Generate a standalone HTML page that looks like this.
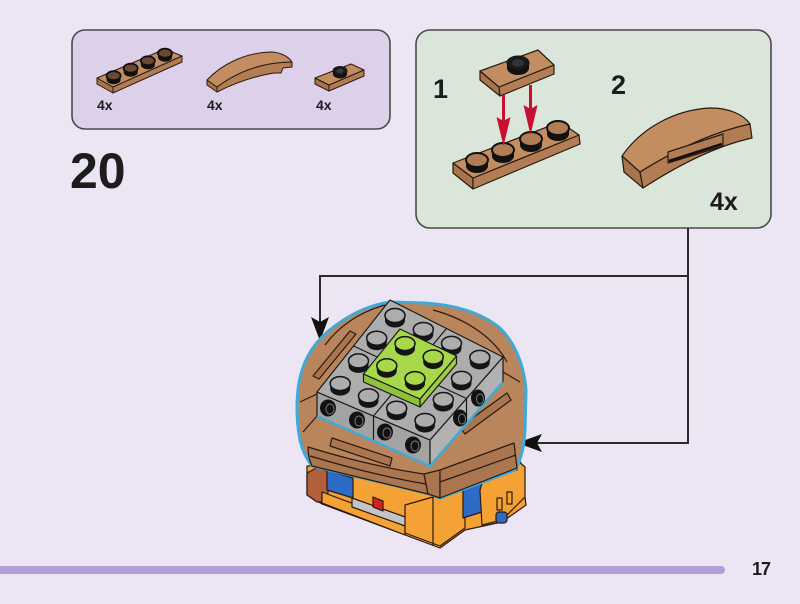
<!DOCTYPE html>
<html><head><meta charset="utf-8"><style>
html,body{margin:0;padding:0;background:#ece5f3;}
svg{display:block;}
text{font-family:"Liberation Sans",sans-serif;font-weight:bold;fill:#1c1c1c;}
</style></head><body>
<svg width="800" height="604" viewBox="0 0 800 604" xmlns="http://www.w3.org/2000/svg">
<rect width="800" height="604" fill="#ece5f3"/>

<!-- Parts box -->
<rect x="72" y="30" width="318" height="99" rx="13" fill="#dcd0ea" stroke="#4a4a4a" stroke-width="1.6"/>
<!-- 1x4 plate -->
<g stroke="#2a1a10" stroke-width="1" stroke-linejoin="round">
<polygon points="97,78 113,87 113,93 97,84" fill="#a8744d"/>
<polygon points="113,87 182,56 182,62 113,93" fill="#b27d54"/>
<polygon points="97,78 165,49 182,56 113,87" fill="#c28d61"/>
</g>
<g fill="#111">
<path d="M106.6,75.7 v4 a7 4.5 0 0 0 14 0 v-4 z"/><ellipse cx="113.6" cy="75.7" rx="7" ry="4.5" fill="#6a4a32" stroke="#111" stroke-width="1.8"/>
<path d="M123.7,68.2 v4 a7 4.5 0 0 0 14 0 v-4 z"/><ellipse cx="130.7" cy="68.2" rx="7" ry="4.5" fill="#6a4a32" stroke="#111" stroke-width="1.8"/>
<path d="M140.9,60.8 v4 a7 4.5 0 0 0 14 0 v-4 z"/><ellipse cx="147.9" cy="60.8" rx="7" ry="4.5" fill="#6a4a32" stroke="#111" stroke-width="1.8"/>
<path d="M158,53.2 v4 a7 4.5 0 0 0 14 0 v-4 z"/><ellipse cx="165" cy="53.2" rx="7" ry="4.5" fill="#6a4a32" stroke="#111" stroke-width="1.8"/>
</g>
<!-- curved slope -->
<g stroke="#2a1a10" stroke-width="1" stroke-linejoin="round">
<path d="M207,80 L217,87 L217,92 L207,85 Z" fill="#a8744d"/>
<path d="M217,87 C240,70 265,62 292,62 L292,67 L283,68 L281,73 L274,73 C255,76 235,83 217,92 Z" fill="#b27d54"/>
<path d="M207,80 C222,64 245,53 270,52 C280,52 288,56 292,62 C265,62 240,70 217,87 Z" fill="#c28d61"/>
</g>
<!-- jumper plate -->
<g stroke="#2a1a10" stroke-width="1" stroke-linejoin="round">
<polygon points="315,78 329,85 329,91 315,84" fill="#a8744d"/>
<polygon points="329,85 364,70 364,76 329,91" fill="#b27d54"/>
<polygon points="315,78 351,64 364,70 329,85" fill="#c28d61"/>
</g>
<path d="M333,71 v3 a7 4.5 0 0 0 14 0 v-3 z" fill="#111"/>
<ellipse cx="340" cy="71" rx="7" ry="4.5" fill="#1a1a1a" stroke="#111"/>
<ellipse cx="340" cy="71" rx="3.5" ry="2.2" fill="#3a3a3a"/>
<text x="97" y="110" font-size="14">4x</text>
<text x="207" y="110" font-size="14">4x</text>
<text x="316" y="110" font-size="14">4x</text>

<!-- Step number -->
<text x="70" y="188" font-size="50">20</text>

<!-- Sub-assembly box -->
<rect x="416" y="30" width="355" height="198" rx="14" fill="#d9e6d9" stroke="#4a4a4a" stroke-width="1.6"/>
<text x="433" y="98" font-size="27">1</text>
<text x="611" y="94" font-size="27">2</text>
<text x="710" y="210" font-size="25">4x</text>

<!-- step1 top plate -->
<g stroke="#2a1a10" stroke-width="1.2" stroke-linejoin="round">
<polygon points="480,71 499,87 500,96 480,80" fill="#a8744d"/>
<polygon points="499,87 554,65 554,74 500,96" fill="#b27d54"/>
<polygon points="480,71 538,50 554,65 499,87" fill="#c28d61"/>
</g>
<path d="M507,63 v5 a11 7 0 0 0 22 0 v-5 z" fill="#111"/>
<ellipse cx="518" cy="63" rx="11" ry="7" fill="#1a1a1a" stroke="#111"/>
<ellipse cx="518" cy="63" rx="6" ry="3.8" fill="#333"/>
<!-- step1 bottom plate -->
<g stroke="#2a1a10" stroke-width="1.2" stroke-linejoin="round">
<polygon points="453,163 473,178 473,189 453,173" fill="#a8744d"/>
<polygon points="473,178 579,135 580,144 473,189" fill="#b27d54"/>
<polygon points="453,163 560,122 579,135 473,178" fill="#c28d61"/>
</g>
<g fill="#111">
<path d="M466,160 v6 a11 7 0 0 0 22 0 v-6 z"/><ellipse cx="477" cy="160" rx="11" ry="7" fill="#b27d54" stroke="#111" stroke-width="2"/>
<path d="M492,150 v6 a11 7 0 0 0 22 0 v-6 z"/><ellipse cx="503" cy="150" rx="11" ry="7" fill="#b27d54" stroke="#111" stroke-width="2"/>
<path d="M520,139 v6 a11 7 0 0 0 22 0 v-6 z"/><ellipse cx="531" cy="139" rx="11" ry="7" fill="#b27d54" stroke="#111" stroke-width="2"/>
<path d="M547,128 v6 a11 7 0 0 0 22 0 v-6 z"/><ellipse cx="558" cy="128" rx="11" ry="7" fill="#b27d54" stroke="#111" stroke-width="2"/>
</g>
<!-- red arrows -->
<g fill="#c8102e">
<rect x="502" y="95" width="3" height="26"/>
<polygon points="496.5,117 503.5,121 510.5,117 503.5,146"/>
<rect x="529" y="85" width="3" height="24"/>
<polygon points="523.5,105 530.5,109 537.5,105 530.5,135"/>
</g>

<!-- step2 curved slope -->
<g stroke="#2a1a10" stroke-width="1.2" stroke-linejoin="round">
<path d="M622,156 L640,172 L643,188 L624,172 Z" fill="#a8744d"/>
<path d="M640,172 C675,150 712,132 750,124 L752,138 C716,146 680,164 643,188 Z" fill="#b27d54"/>
<path d="M622,156 C640,130 672,110 710,108 C730,108 744,115 750,124 C712,132 675,150 640,172 Z" fill="#c28d61"/>
<path d="M668,152 L723,134 L723,146 L668,163 Z" fill="#b27d54"/>
<path d="M669,161 L722,144" stroke="#111" stroke-width="2.5"/>
</g>

<!-- connectors -->
<g stroke="#2b2b2b" stroke-width="2" fill="none">
<polyline points="688,228 688,443 530,443"/>
<polyline points="688,276 320,276 320,325"/>
</g>
<polygon points="311,317 320,322 329,317 320,341" fill="#111"/>
<polygon points="542,434 537,443 542,452 517,443" fill="#111"/>

<!-- MODEL -->
<!-- base -->
<g stroke="#2a1a10" stroke-width="1.2" stroke-linejoin="round">
<polygon points="307,466 520,458 526,505 502,522 465,530 440,548 322,504 307,495" fill="#f4a136"/>
<polygon points="307,473 318,467 328,472 328,502 317,502 307,495" fill="#b0603a"/>
<polygon points="327,470 353,478 353,498 327,490" fill="#2e6bc6"/>
<polygon points="322,492 405,523 405,535 322,503" fill="#f4a136"/>
<polygon points="352,498 408,518 408,527 352,507" fill="#c4c4c4"/>
<polygon points="373,497 383,501 383,511 373,507" fill="#d42020"/>
<polygon points="405,505 433,497 465,490 465,528 440,546 405,533" fill="#f4a136"/>
<line x1="433" y1="497" x2="433" y2="546"/>
<polygon points="463,475 482,468 482,512 463,518" fill="#2e6bc6"/>
<polygon points="480,490 487,467 517,460 525,467 525,497 502,520 482,525" fill="#f4a136"/>
<polygon points="487,470 517,462 517,470 487,478" fill="#e08e2a"/>
<rect x="497" y="498" width="5" height="12" fill="none"/>
<rect x="507" y="492" width="5" height="12" fill="none"/>
<rect x="496" y="512" width="11" height="11" rx="3" fill="#2e6bc6"/>
</g>

<!-- ring -->
<path d="M300,440 C296,420 296,395 300,378 C305,355 318,338 335,326 C352,313 370,305 390,302 L425,303 C455,305 480,312 500,328 C515,343 524,365 526,390 L525,430 C524,448 520,462 515,470 L440,498 L430,494 L312,466 C306,458 302,450 300,440 Z" fill="#b9855c" stroke="#3fa9d8" stroke-width="3"/>
<g stroke="#2a1a10" stroke-width="1.2" fill="none" stroke-linejoin="round">
<path d="M308,447 C350,460 390,469 424,474 L428,494 L312,466 C309,460 308,455 308,447 Z" fill="#a97650"/>
<path d="M424,474 L440,470 L440,498 L428,494 Z" fill="#a97650"/>
<path d="M440,470 L514,443 L517,468 L440,498 Z" fill="#a97650"/>
<path d="M440,482 L516,455"/>
<path d="M310,456 C350,468 390,478 426,484"/>
<polygon points="332,438 392,458 390,466 330,446" fill="#a97650"/>
<polygon points="460,427 507,393 511,400 465,434" fill="#a97650"/>
<polygon points="313,376 350,331 356,334 319,379" fill="#a97650"/>
<path d="M433,310 C470,320 495,340 507,362"/>
<path d="M300,402 L317,394"/>
<path d="M303,432 L317,416"/>
<path d="M520,382 L503,372"/>
<path d="M325,345 C340,325 360,312 385,305"/>
</g>

<!-- gray block -->
<g stroke="#1a1a1a" stroke-width="1.2" stroke-linejoin="round">
<polygon points="317,392 430,440 430,466 317,416" fill="#a3a3a3"/>
<polygon points="430,440 503,357 503,382 430,466" fill="#b2b2b2"/>
<polygon points="390,300 503,357 430,440 317,392" fill="#adadad"/>
<line x1="446.5" y1="328.5" x2="373.5" y2="416"/>
<line x1="353.5" y1="346" x2="466.5" y2="398.5"/>
<line x1="373.5" y1="416" x2="373.5" y2="441"/>
<line x1="466.5" y1="398.5" x2="466.5" y2="423"/>
</g>
<polyline points="317,416 430,466 503,382" fill="none" stroke="#3fa9d8" stroke-width="2.5"/>
<!-- side studs -->
<g fill="#111">
<ellipse cx="328" cy="408" rx="8" ry="8.5"/><ellipse cx="357" cy="420" rx="8" ry="8.5"/>
<ellipse cx="385" cy="432" rx="8" ry="8.5"/><ellipse cx="413" cy="445" rx="8" ry="8.5"/>
<ellipse cx="478" cy="398" rx="7" ry="8.5"/><ellipse cx="460" cy="418" rx="7" ry="8.5"/>
</g>
<g fill="none" stroke="#777" stroke-width="1">
<ellipse cx="330" cy="409" rx="4" ry="5"/><ellipse cx="359" cy="421" rx="4" ry="5"/>
<ellipse cx="387" cy="433" rx="4" ry="5"/><ellipse cx="415" cy="446" rx="4" ry="5"/>
<ellipse cx="480" cy="399" rx="3.5" ry="5"/><ellipse cx="462" cy="419" rx="3.5" ry="5"/>
</g>
<!-- gray studs -->
<g fill="#151515">
<path d="M385,315.5 v5 a10 7 0 0 0 20 0 v-5 z"/><ellipse cx="395" cy="315.5" rx="10" ry="7" fill="#adadad" stroke="#151515" stroke-width="1.5"/>
<path d="M413.3,329.5 v5 a10 7 0 0 0 20 0 v-5 z"/><ellipse cx="423.3" cy="329.5" rx="10" ry="7" fill="#adadad" stroke="#151515" stroke-width="1.5"/>
<path d="M441.5,343.4 v5 a10 7 0 0 0 20 0 v-5 z"/><ellipse cx="451.5" cy="343.4" rx="10" ry="7" fill="#adadad" stroke="#151515" stroke-width="1.5"/>
<path d="M469.8,357.4 v5 a10 7 0 0 0 20 0 v-5 z"/><ellipse cx="479.8" cy="357.4" rx="10" ry="7" fill="#adadad" stroke="#151515" stroke-width="1.5"/>
<path d="M366.7,338.2 v5 a10 7 0 0 0 20 0 v-5 z"/><ellipse cx="376.7" cy="338.2" rx="10" ry="7" fill="#adadad" stroke="#151515" stroke-width="1.5"/>
<path d="M451.5,378.4 v5 a10 7 0 0 0 20 0 v-5 z"/><ellipse cx="461.5" cy="378.4" rx="10" ry="7" fill="#adadad" stroke="#151515" stroke-width="1.5"/>
<path d="M348.5,360.9 v5 a10 7 0 0 0 20 0 v-5 z"/><ellipse cx="358.5" cy="360.9" rx="10" ry="7" fill="#adadad" stroke="#151515" stroke-width="1.5"/>
<path d="M433.3,399.5 v5 a10 7 0 0 0 20 0 v-5 z"/><ellipse cx="443.3" cy="399.5" rx="10" ry="7" fill="#adadad" stroke="#151515" stroke-width="1.5"/>
<path d="M330.2,383.6 v5 a10 7 0 0 0 20 0 v-5 z"/><ellipse cx="340.2" cy="383.6" rx="10" ry="7" fill="#adadad" stroke="#151515" stroke-width="1.5"/>
<path d="M358.5,395.9 v5 a10 7 0 0 0 20 0 v-5 z"/><ellipse cx="368.5" cy="395.9" rx="10" ry="7" fill="#adadad" stroke="#151515" stroke-width="1.5"/>
<path d="M386.7,408.2 v5 a10 7 0 0 0 20 0 v-5 z"/><ellipse cx="396.7" cy="408.2" rx="10" ry="7" fill="#adadad" stroke="#151515" stroke-width="1.5"/>
<path d="M415,420.5 v5 a10 7 0 0 0 20 0 v-5 z"/><ellipse cx="425" cy="420.5" rx="10" ry="7" fill="#adadad" stroke="#151515" stroke-width="1.5"/>
</g>
<!-- green plate -->
<g stroke="#1a1a1a" stroke-width="1.2" stroke-linejoin="round">
<polygon points="363.5,374 420,399 420,407 363.5,382" fill="#8fc23a"/>
<polygon points="420,399 456.5,356 456.5,364 420,407" fill="#9ccd40"/>
<polygon points="400,329 456.5,356 420,399 363.5,374" fill="#a6d84a"/>
</g>
<g fill="#151515">
<path d="M395,343.6 v5 a10 7 0 0 0 20 0 v-5 z"/><ellipse cx="405" cy="343.6" rx="10" ry="7" fill="#a6d84a" stroke="#151515" stroke-width="1.5"/>
<path d="M423.2,357 v5 a10 7 0 0 0 20 0 v-5 z"/><ellipse cx="433.2" cy="357" rx="10" ry="7" fill="#a6d84a" stroke="#151515" stroke-width="1.5"/>
<path d="M376.8,365.8 v5 a10 7 0 0 0 20 0 v-5 z"/><ellipse cx="386.8" cy="365.8" rx="10" ry="7" fill="#a6d84a" stroke="#151515" stroke-width="1.5"/>
<path d="M405,378.6 v5 a10 7 0 0 0 20 0 v-5 z"/><ellipse cx="415" cy="378.6" rx="10" ry="7" fill="#a6d84a" stroke="#151515" stroke-width="1.5"/>
</g>

<!-- footer -->
<rect x="-10" y="566" width="735" height="8" rx="4" fill="#b09fd0"/>
<text x="752" y="575" font-size="18" letter-spacing="-1">17</text>
</svg>
</body></html>
